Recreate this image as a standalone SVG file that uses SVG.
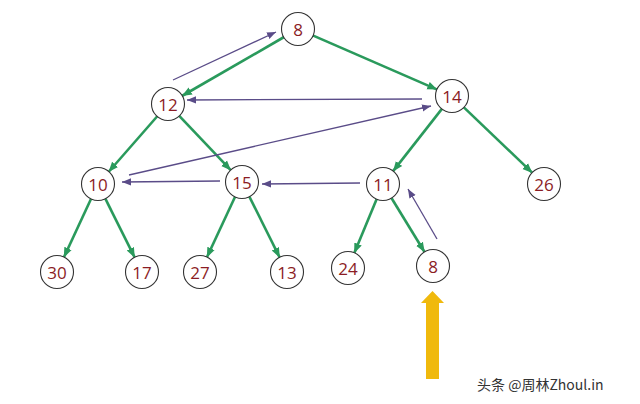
<svg xmlns="http://www.w3.org/2000/svg" width="640" height="404" viewBox="0 0 640 404">
<style>
.n circle{fill:#fff;stroke:#333;stroke-width:1.1}
.n text{font-family:"Open Sans","Noto Sans",sans-serif;font-size:17px;fill:#8b1c24;text-anchor:middle;dominant-baseline:central}
.g{stroke:#2a9a5c;stroke-width:2.6;fill:none;marker-end:url(#ga)}
.p{stroke:#5a4c88;stroke-width:1.3;fill:none;marker-end:url(#pa)}
.wm{font-family:"Noto Sans CJK SC","Liberation Sans",sans-serif;font-size:14px;fill:#333}
</style>
<defs>
<marker id="ga" markerUnits="userSpaceOnUse" markerWidth="10" markerHeight="10" viewBox="0 0 10 10" refX="10" refY="5" orient="auto"><path d="M0,1 L10,5 L0,9 z" fill="#2a9a5c"/></marker>
<marker id="pa" markerUnits="userSpaceOnUse" markerWidth="9" markerHeight="9" viewBox="0 0 10 10" refX="10" refY="5" orient="auto"><path d="M0,1 L10,5 L0,9 z" fill="#5a4c88"/></marker>
</defs>
<rect width="640" height="404" fill="#fff"/>
<g id="connectors">
<line class="g" x1="284.1" y1="37" x2="181.9" y2="96"/>
<line class="g" x1="312.7" y1="35.4" x2="437.3" y2="89.6"/>
<line class="g" x1="157.5" y1="116" x2="108.5" y2="172"/>
<line class="g" x1="179" y1="115.6" x2="231" y2="170.4"/>
<line class="g" x1="442.1" y1="108.6" x2="392.9" y2="171.4"/>
<line class="g" x1="463.6" y1="107.1" x2="532.4" y2="172.9"/>
<line class="g" x1="91.2" y1="198.5" x2="63.8" y2="257.5"/>
<line class="g" x1="105.2" y1="198.3" x2="134.8" y2="257.7"/>
<line class="g" x1="235.2" y1="196.5" x2="206.8" y2="257.5"/>
<line class="g" x1="249.2" y1="196.3" x2="279.8" y2="257.7"/>
<line class="g" x1="376.8" y1="198.8" x2="354.2" y2="253.2"/>
<line class="g" x1="391.3" y1="197.7" x2="424.7" y2="252.3"/>
<line class="p" x1="173" y1="80" x2="276" y2="32"/>
<line class="p" x1="422" y1="99" x2="187" y2="100"/>
<line class="p" x1="129" y1="175" x2="431" y2="106"/>
<line class="p" x1="220" y1="181" x2="122" y2="182"/>
<line class="p" x1="360" y1="183" x2="262" y2="184"/>
<line class="p" x1="437" y1="239" x2="408" y2="189"/>
</g>
<g id="n8top" class="n"><circle cx="298" cy="29" r="16.5"/><text x="298" y="29">8</text></g>
<g id="n12" class="n"><circle cx="168" cy="104" r="16.5"/><text x="168" y="104">12</text></g>
<g id="n14" class="n"><circle cx="452" cy="96" r="16.5"/><text x="452" y="96">14</text></g>
<g id="n10" class="n"><circle cx="98" cy="184" r="16.5"/><text x="98" y="184">10</text></g>
<g id="n15" class="n"><circle cx="242" cy="182" r="16.5"/><text x="242" y="182">15</text></g>
<g id="n11" class="n"><circle cx="383" cy="184" r="16.5"/><text x="383" y="184">11</text></g>
<g id="n26" class="n"><circle cx="544" cy="184" r="16.5"/><text x="544" y="184">26</text></g>
<g id="n30" class="n"><circle cx="57" cy="272" r="16.5"/><text x="57" y="272">30</text></g>
<g id="n17" class="n"><circle cx="142" cy="272" r="16.5"/><text x="142" y="272">17</text></g>
<g id="n27" class="n"><circle cx="200" cy="272" r="16.5"/><text x="200" y="272">27</text></g>
<g id="n13" class="n"><circle cx="287" cy="272" r="16.5"/><text x="287" y="272">13</text></g>
<g id="n24" class="n"><circle cx="348" cy="268" r="16.5"/><text x="348" y="268">24</text></g>
<g id="n8bot" class="n"><circle cx="433" cy="266" r="16.5"/><text x="433" y="266">8</text></g>
<g id="pointer"><path d="M426,379 L426,303 L421,303 L432.5,291 L444,303 L439,303 L439,379 z" fill="#f0b90c"/></g>
<text class="wm" x="477" y="390">头条 @周林Zhoul.in</text>
</svg>
